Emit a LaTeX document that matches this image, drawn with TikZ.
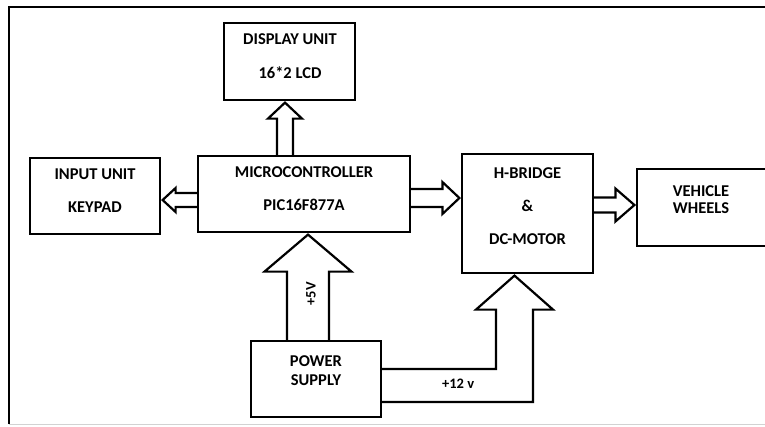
\documentclass[tikz,border=0pt]{standalone}
\usepackage{fontspec}
\setmainfont{Carlito}
\usetikzlibrary{calc}

\newcommand{\fatarrow}[5]{%
  \coordinate (hb) at ($(#2)!#5!(#1)$);
  \draw[fat] ($(#1)!#3!90:(#2)$) -- ($(hb)!#3!90:(#2)$) -- ($(hb)!#4!90:(#2)$) -- (#2)
    -- ($(hb)!#4!-90:(#2)$) -- ($(hb)!#3!-90:(#2)$) -- ($(#1)!#3!-90:(#2)$);
}

\tikzset{
  blk/.style={draw, line width=2.2pt, inner sep=0pt},
  txt/.style={font=\bfseries\fontsize{16.5}{19}\selectfont, align=center, inner sep=0pt},
  volt/.style={font=\bfseries\fontsize{14.5}{16}\selectfont, inner sep=0pt},
  fat/.style={line width=2.2pt, line join=miter},
  frame/.style={line width=2.6pt}
}

\begin{document}
\begin{tikzpicture}[x=1pt, y=-1pt]
  \useasboundingbox (0,0) rectangle (765,426);
  \clip (0,0) rectangle (765,426);
  \draw[frame] (9,424) -- (9,7) -- (780,7);
  \draw[gray!35, line width=1.5pt] (9,424.5) -- (780,424.5);

  \node[blk, minimum width=131pt, minimum height=77pt] (disp) at (289.5,61.5) {};
  \node[blk, minimum width=130pt, minimum height=76pt] (input) at (95,196) {};
  \node[blk, minimum width=212pt, minimum height=76pt] (micro) at (304,194) {};
  \node[blk, minimum width=131pt, minimum height=119pt] (hbridge) at (527.5,213.5) {};
  \node[blk, minimum width=133pt, minimum height=77pt] (wheels) at (703.5,207.5) {};
  \node[blk, minimum width=130pt, minimum height=76pt] (power) at (316,379) {};

  \node[txt] (disptxt) at ([xshift=0.5pt,yshift=5.5pt]disp.center) {DISPLAY UNIT\\[15pt]16*2 LCD};
  \node[txt] (inputtxt) at ([yshift=5.5pt]input.center) {INPUT UNIT\\[14pt]KEYPAD};
  \node[txt] (microtxt) at ([yshift=5.5pt]micro.center) {MICROCONTROLLER\\[14pt]PIC16F877A};
  \node[txt] (hbridgetxt) at ([yshift=7.5pt]hbridge.center) {H-BRIDGE\\[14pt]\&\\[14pt]DC-MOTOR};
  \node[txt, font=\bfseries\fontsize{16.5}{17.5}\selectfont] (wheelstxt) at ([xshift=-2.5pt,yshift=8pt]wheels.center) {VEHICLE\\WHEELS};
  \node[txt] (powertxt) at ([yshift=8pt]power.center) {POWER\\SUPPLY};

  \coordinate (a1b) at ([xshift=-19pt]micro.north);
  \coordinate (a1t) at ([xshift=-4.5pt,yshift=-1.5pt]disp.south);
  \fatarrow{a1b}{a1t}{8pt}{17pt}{16pt}
  \coordinate (a2b) at ([yshift=-6pt]micro.west);
  \coordinate (a2t) at ([xshift=1.5pt,yshift=-4pt]input.east);
  \fatarrow{a2b}{a2t}{7pt}{12pt}{13pt}
  \coordinate (a3b) at ([yshift=-4pt]micro.east);
  \coordinate (a3t) at ([xshift=-1.5pt,yshift=15.5pt]hbridge.west);
  \fatarrow{a3b}{a3t}{9pt}{16pt}{17pt}
  \coordinate (a4b) at ([yshift=8.5pt]hbridge.east);
  \coordinate (a4t) at ([xshift=-1.5pt,yshift=2.5pt]wheels.west);
  \fatarrow{a4b}{a4t}{7.5pt}{16.5pt}{19pt}
  \coordinate (a5b) at ([xshift=-8pt]power.north);
  \coordinate (a5t) at ([xshift=4pt,yshift=-1.5pt]micro.south);
  \fatarrow{a5b}{a5t}{21pt}{43.5pt}{37pt}

  \coordinate (a6t) at ([xshift=-13pt,yshift=-1.5pt]hbridge.south);
  \draw[fat] ([yshift=10pt]power.east) -| ([xshift=-18.5pt,yshift=-34pt]a6t)
    -- ([xshift=-38.5pt,yshift=-34pt]a6t) -- (a6t) -- ([xshift=38.5pt,yshift=-34pt]a6t)
    -- ([xshift=18.5pt,yshift=-34pt]a6t) |- ([yshift=-23pt]power.east);

  \node[volt, rotate=90] (v5) at ($(power.north)+(-5,-46)$) {+5V};
  \node[volt] (v12) at ($(power.east)+(76,5)$) {+12 v};
\end{tikzpicture}
\end{document}
